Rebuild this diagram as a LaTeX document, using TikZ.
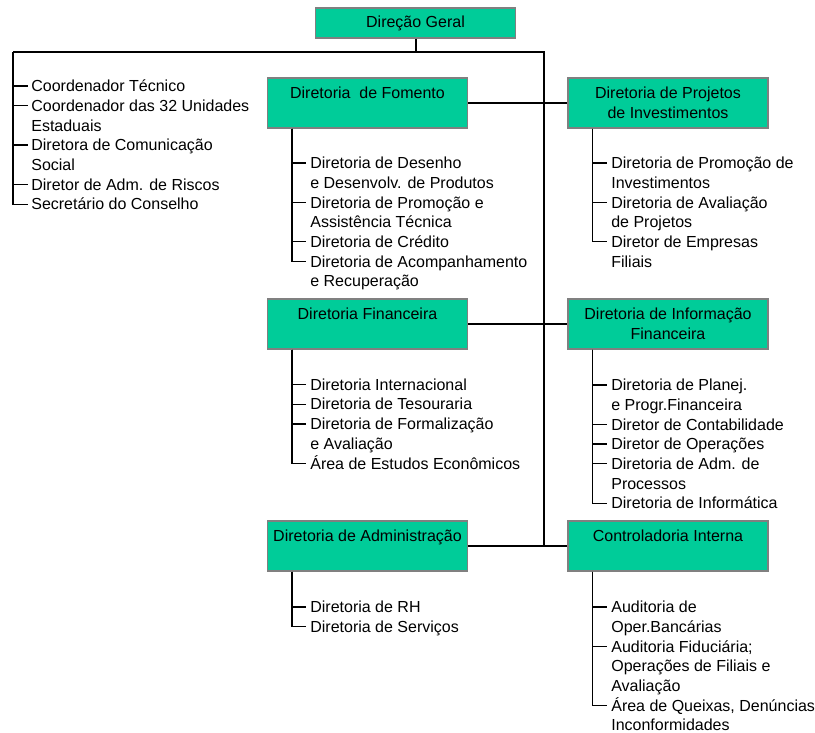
\documentclass[tikz,border=0pt]{standalone}
\usepackage{fontspec}
\setmainfont{Liberation Sans}
\usetikzlibrary{calc}
\definecolor{boxgreen}{HTML}{00CC99}
\newcommand{\itemlines}[1]{\begin{tabular}[t]{@{}l@{}}#1\end{tabular}}
\tikzset{
  box/.style={draw=gray, line width=0.7pt, fill=boxgreen, rectangle, align=center, minimum width=120pt, minimum height=30pt, inner sep=0pt},
  onebox/.style={box, text height=7pt, text depth=12pt},
  item/.style={anchor=base west, inner sep=0pt, yshift=-3.42pt},
  trunk/.style={draw=black, line width=1.2pt},
  twig/.style={draw=black, line width=0.8pt}
}

\begin{document}
\begin{tikzpicture}[x=0.6pt, y=-0.6pt, font=\fontsize{9.6}{11.8}\selectfont]
\useasboundingbox (0,0) rectangle (815,733);

% boxes
\node[box, minimum height=18pt] (dg) at (415.5,23) {Direção Geral};
\node[onebox] (fom) at (367.5,103) {Diretoria\ \ de Fomento};
\node[box] (proj) at (668,103) {Diretoria de Projetos\\de Investimentos};
\node[onebox] (fin) at (367.5,324) {Diretoria Financeira};
\node[box] (inf) at (668,324) {Diretoria de Informação\\Financeira};
\node[onebox] (adm) at (367.5,546) {Diretoria de Administração};
\node[onebox] (ctl) at (668,546) {Controladoria Interna};

% main lines
\coordinate (tl) at (13,52);
\coordinate (tr) at (544,52);
\draw[trunk] (dg.south) -- (dg.south |- tl);
\draw[trunk] (tl) -- (tr) -- (tr |- adm.east);
\draw[twig] (fom.east) -- (proj.west);
\draw[twig] (fin.east) -- (inf.west);
\draw[twig] (adm.east) -- (ctl.west);

% staff of the general direction
\node[item] (c1) at (31,86) {Coordenador Técnico};
\node[item] (c2) at (31,105.7) {\itemlines{Coordenador das 32 Unidades\\Estaduais}};
\node[item] (c3) at (31,145.1) {\itemlines{Diretora de Comunicação\\Social}};
\node[item] (c4) at (31,184.5) {Diretor de Adm. de Riscos};
\node[item] (c5) at (31,204.2) {Secretário do Conselho};
\foreach \n in {c1,c2,c3,c4,c5}
  \draw[twig] (tl) |- ($(\n.base west)+(-3,-5.7)$);

% fomento
\node[item] (f1) at (310,163) {\itemlines{Diretoria de Desenho\\e Desenvolv. de Produtos}};
\node[item] (f2) at (310,202.4) {\itemlines{Diretoria de Promoção e\\Assistência Técnica}};
\node[item] (f3) at (310,241.8) {Diretoria de Crédito};
\node[item] (f4) at (310,261.5) {\itemlines{Diretoria de Acompanhamento\\e Recuperação}};
\foreach \n in {f1,f2,f3,f4}
  \draw[twig] (fom.south west) ++(25,0) |- ($(\n.base west)+(-4,-5.7)$);

% projetos
\node[item] (p1) at (611,163) {\itemlines{Diretoria de Promoção de\\Investimentos}};
\node[item] (p2) at (611,202.4) {\itemlines{Diretoria de Avaliação\\de Projetos}};
\node[item] (p3) at (611,241.8) {\itemlines{Diretor de Empresas\\Filiais}};
\foreach \n in {p1,p2,p3}
  \draw[twig] (proj.south west) ++(25,0) |- ($(\n.base west)+(-4,-5.7)$);

% financeira
\node[item] (n1) at (310,384.5) {Diretoria Internacional};
\node[item] (n2) at (310,404.2) {Diretoria de Tesouraria};
\node[item] (n3) at (310,423.9) {\itemlines{Diretoria de Formalização\\e Avaliação}};
\node[item] (n4) at (310,463.3) {Área de Estudos Econômicos};
\foreach \n in {n1,n2,n3,n4}
  \draw[twig] (fin.south west) ++(25,0) |- ($(\n.base west)+(-4,-5.7)$);

% informacao financeira
\node[item] (i1) at (611,385) {\itemlines{Diretoria de Planej.\\e Progr.Financeira}};
\node[item] (i2) at (611,424.4) {Diretor de Contabilidade};
\node[item] (i3) at (611,444.1) {Diretor de Operações};
\node[item] (i4) at (611,463.8) {\itemlines{Diretoria de Adm. de\\Processos}};
\node[item] (i5) at (611,503.2) {Diretoria de Informática};
\foreach \n in {i1,i2,i3,i4,i5}
  \draw[twig] (inf.south west) ++(25,0) |- ($(\n.base west)+(-4,-5.7)$);

% administracao
\node[item] (a1) at (310,607) {Diretoria de RH};
\node[item] (a2) at (310,626.7) {Diretoria de Serviços};
\foreach \n in {a1,a2}
  \draw[twig] (adm.south west) ++(25,0) |- ($(\n.base west)+(-4,-5.7)$);

% controladoria
\node[item] (k1) at (611,607) {\itemlines{Auditoria de\\Oper.Bancárias}};
\node[item] (k2) at (611,646.4) {\itemlines{Auditoria Fiduciária;\\Operações de Filiais e\\Avaliação}};
\node[item] (k3) at (611,705.5) {\itemlines{Área de Queixas, Denúncias\\Inconformidades}};
\foreach \n in {k1,k2,k3}
  \draw[twig] (ctl.south west) ++(25,0) |- ($(\n.base west)+(-4,-5.7)$);

\end{tikzpicture}
\end{document}
